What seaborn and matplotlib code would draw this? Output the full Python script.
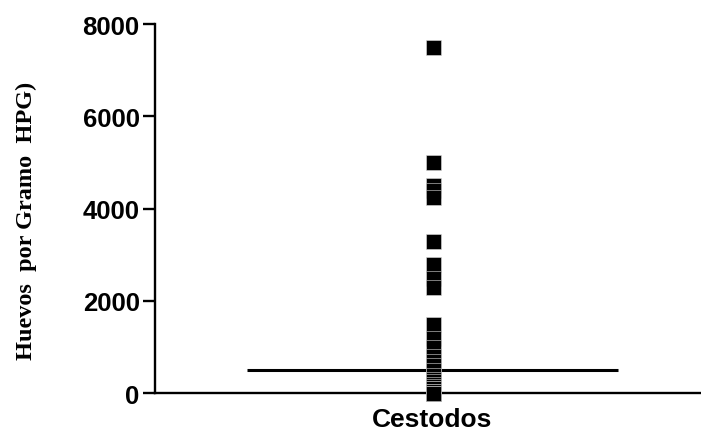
import numpy as np
import pandas as pd
import seaborn as sns
import matplotlib.pyplot as plt

# huevos por gramo, una muestra por punto
grupo = "Cestodos"
hpg = [7500, 5000, 4500, 4400, 4250, 3300, 2800, 2500, 2300, 1500,
       1200, 1000, 800, 700, 600, 500,
       400, 300, 250, 200, 150, 100, 100, 50, 50, 0, 0, 0, 0, 0, 0]
y_ticks = [0, 2000, 4000, 6000, 8000]

df = pd.DataFrame({"grupo": [grupo] * len(hpg), "hpg": hpg})

sns.set_style("ticks", {'axes.edgecolor': 'black', 'text.color': 'black',
                        'xtick.color': 'black', 'ytick.color': 'black',
                        'axes.labelcolor': 'black'})
plt.rcParams['font.family'] = ['Liberation Sans', 'DejaVu Sans']

fig = plt.figure(figsize=(7.01, 4.39), dpi=100)
ax = fig.add_axes([0.221, 0.1025, 0.792, 0.8405])

sns.stripplot(data=df, x="grupo", y="hpg", ax=ax, jitter=False, marker='s',
              size=10.8, color='black', edgecolor='#dddddd', linewidth=0.4)
for c in ax.collections:
    c.set_clip_on(False)

med = np.median(hpg)
ax.hlines(med, -1.0, 1.0, color='black', lw=2.2, zorder=1)

ax.set_xlim(-1.5, 1.5)
ax.set_ylim(0, 8000)
ax.set_yticks(y_ticks)
ax.set_yticklabels([str(v) for v in y_ticks], fontsize=18.5, fontweight='bold')
ax.set_xticks([0])
ax.set_xticklabels([grupo], fontsize=19, fontweight='bold')

for s in ['top', 'right']:
    ax.spines[s].set_visible(False)
for s in ['left', 'bottom']:
    ax.spines[s].set_linewidth(1.7)
ax.tick_params(axis='y', length=9, width=1.7, pad=2)
ax.tick_params(axis='x', length=4, width=1.7, pad=6)

ax.set_xlabel('')
ax.set_ylabel('Huevos  por Gramo  HPG)', fontsize=17.5, fontweight='bold',
              family=['Liberation Serif', 'DejaVu Serif'])
ax.yaxis.set_label_coords(-0.212, 0.47)

plt.savefig('out.png', dpi=100)
